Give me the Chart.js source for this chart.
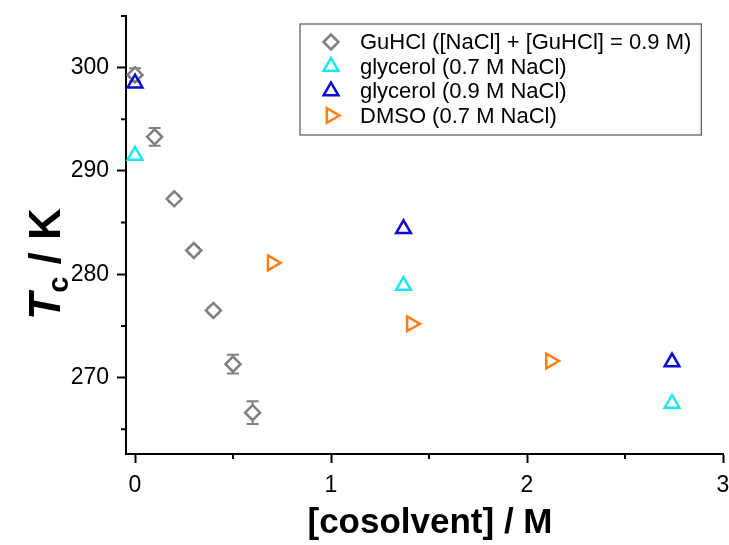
<!DOCTYPE html>
<html>
<head>
<meta charset="utf-8">
<script src="https://cdn.jsdelivr.net/npm/chart.js@4.4.0/dist/chart.umd.min.js"></script>
<style>
  html, body { margin: 0; padding: 0; background: #fff; }
</style>
</head>
<body>
<canvas id="tcChart" width="729" height="545"></canvas>
<script>
// ---- values ----
const guhclX   = [0, 0.1, 0.2, 0.3, 0.4, 0.5, 0.6];
const guhclY   = [299.3, 293.3, 287.3, 282.3, 276.5, 271.3, 266.6];
const guhclErr = [0.65, 0.85, 0.3, 0.3, 0.3, 0.9, 1.1];

const gly07X = [0, 1.37, 2.74];
const gly07Y = [291.5, 278.9, 267.5];

const gly09X = [0, 1.37, 2.74];
const gly09Y = [298.5, 284.4, 271.5];

const dmsoX = [0.7, 1.41, 2.12];
const dmsoY = [281.1, 275.2, 271.6];

const seriesLabels = [
  "GuHCl ([NaCl] + [GuHCl] = 0.9 M)",
  "glycerol (0.7 M NaCl)",
  "glycerol (0.9 M NaCl)",
  "DMSO (0.7 M NaCl)"
];

const xMajorTicks = [0, 1, 2, 3];
const xMinorTicks = [0.5, 1.5, 2.5];
const yMajorTicks = [270, 280, 290, 300];
const yMinorTicks = [265, 275, 285, 295, 305];

const xTitle = "[cosolvent] / M";

// ---- styles ----
const FONT = 'Arial, "Liberation Sans", sans-serif';
const colGray = "#808080";
const colCyan = "#1ee6f0";
const colBlue = "#0a0ad2";
const colOrange = "#ff7f12";

const pairs = (xs, ys) => xs.map((v, i) => ({ x: v, y: ys[i] }));

// gray error bars on the GuHCl points
const errorBars = {
  id: "errorBars",
  beforeDatasetsDraw(chart) {
    const { ctx, scales: { x, y } } = chart;
    ctx.save();
    ctx.strokeStyle = colGray;
    ctx.lineWidth = 2;
    guhclX.forEach((v, i) => {
      const px = x.getPixelForValue(v);
      const hi = y.getPixelForValue(guhclY[i] + guhclErr[i]);
      const lo = y.getPixelForValue(guhclY[i] - guhclErr[i]);
      ctx.beginPath();
      ctx.moveTo(px, hi); ctx.lineTo(px, lo);
      ctx.moveTo(px - 6, hi); ctx.lineTo(px + 6, hi);
      ctx.moveTo(px - 6, lo); ctx.lineTo(px + 6, lo);
      ctx.stroke();
    });
    ctx.restore();
  }
};

// short minor ticks, axis titles, boxed legend
const extras = {
  id: "extras",
  afterDraw(chart) {
    const { ctx, scales: { x, y }, chartArea } = chart;
    ctx.save();
    ctx.strokeStyle = "#000";
    ctx.lineWidth = 2;
    ctx.beginPath();
    xMinorTicks.forEach(v => {
      const px = x.getPixelForValue(v);
      ctx.moveTo(px, chartArea.bottom);
      ctx.lineTo(px, chartArea.bottom + 5);
    });
    yMinorTicks.forEach(v => {
      const py = y.getPixelForValue(v);
      ctx.moveTo(chartArea.left, py);
      ctx.lineTo(chartArea.left - 5, py);
    });
    ctx.stroke();

    // x title
    ctx.fillStyle = "#000";
    ctx.font = "bold 35px " + FONT;
    ctx.textAlign = "center";
    ctx.textBaseline = "middle";
    ctx.fillText(xTitle, 430, 523);

    // y title: T_c / K
    ctx.textAlign = "left";
    ctx.translate(46, 264);
    ctx.rotate(-Math.PI / 2);
    ctx.textBaseline = "alphabetic";
    const big = "bold 44px " + FONT, bigIt = "italic bold 44px " + FONT, sub = "bold 29px " + FONT;
    ctx.font = bigIt; const wT = ctx.measureText("T").width;
    ctx.font = sub; const wc = ctx.measureText("c").width;
    ctx.font = big; const wK = ctx.measureText(" / K").width;
    let tx = -(wT + wc + wK) / 2;
    ctx.font = bigIt; ctx.fillText("T", tx, 14); tx += wT;
    ctx.font = sub; ctx.fillText("c", tx, 22); tx += wc;
    ctx.font = big; ctx.fillText(" / K", tx, 14);
    ctx.restore();

    // legend
    ctx.save();
    ctx.font = "22px " + FONT;
    const textX = 360, markX = 331, rowY0 = 42, rowStep = 24.5;
    let maxW = 0;
    chart.data.datasets.forEach(ds => { maxW = Math.max(maxW, ctx.measureText(ds.label).width); });
    ctx.strokeStyle = "#555";
    ctx.lineWidth = 1.2;
    ctx.strokeRect(300, 24, textX + maxW + 10 - 300, 111);
    ctx.textBaseline = "middle";
    chart.data.datasets.forEach((ds, i) => {
      const yy = rowY0 + i * rowStep;
      ctx.strokeStyle = ds.borderColor;
      ctx.fillStyle = "rgba(0,0,0,0)";
      ctx.lineWidth = ds.borderWidth;
      Chart.helpers.drawPoint(ctx, {
        pointStyle: ds.pointStyle, rotation: ds.rotation || 0,
        radius: ds.pointRadius, borderWidth: ds.borderWidth
      }, markX, yy);
      ctx.fillStyle = "#000";
      ctx.fillText(ds.label, textX, yy + 1);
    });
    ctx.restore();
  }
};

new Chart(document.getElementById("tcChart"), {
  type: "scatter",
  data: {
    datasets: [
      {
        label: seriesLabels[0], data: pairs(guhclX, guhclY), order: 10,
        pointStyle: "rectRot", pointRadius: 7.5, borderColor: colGray,
        backgroundColor: "#fff", borderWidth: 2.5
      },
      {
        label: seriesLabels[1], data: pairs(gly07X, gly07Y), order: 2,
        pointStyle: "triangle", pointRadius: 8.5, borderColor: colCyan,
        backgroundColor: "rgba(0,0,0,0)", borderWidth: 2.5
      },
      {
        label: seriesLabels[2], data: pairs(gly09X, gly09Y), order: 1,
        pointStyle: "triangle", pointRadius: 8.5, borderColor: colBlue,
        backgroundColor: "rgba(0,0,0,0)", borderWidth: 2.5
      },
      {
        label: seriesLabels[3], data: pairs(dmsoX, dmsoY), order: 3,
        pointStyle: "triangle", rotation: 90, pointRadius: 8.5, borderColor: colOrange,
        backgroundColor: "rgba(0,0,0,0)", borderWidth: 2.5
      }
    ]
  },
  options: {
    responsive: false,
    animation: false,
    clip: false,
    layout: { autoPadding: false, padding: { left: 0, top: 16, right: 6, bottom: 0 } },
    plugins: { legend: { display: false }, tooltip: { enabled: false } },
    scales: {
      x: {
        type: "linear", position: "bottom", min: -0.046, max: 3,
        afterBuildTicks: s => { s.ticks = xMajorTicks.map(v => ({ value: v })); },
        afterFit: s => { s.height = 91; s.paddingLeft = 0; s.paddingRight = 0; },
        grid: { drawOnChartArea: false, drawTicks: true, tickLength: 9, tickWidth: 2, tickColor: "#000" },
        border: { display: true, color: "#000", width: 2 },
        ticks: { color: "#000", font: { family: FONT, size: 23 }, padding: 9, maxRotation: 0 }
      },
      y: {
        type: "linear", min: 262.6, max: 305,
        afterBuildTicks: s => { s.ticks = yMajorTicks.map(v => ({ value: v })); },
        afterFit: s => { s.width = 126; s.paddingTop = 0; s.paddingBottom = 0; },
        grid: { drawOnChartArea: false, drawTicks: true, tickLength: 9, tickWidth: 2, tickColor: "#000" },
        border: { display: true, color: "#000", width: 2 },
        ticks: { color: "#000", font: { family: FONT, size: 23 }, padding: 8 }
      }
    }
  },
  plugins: [errorBars, extras]
});
</script>
</body>
</html>
